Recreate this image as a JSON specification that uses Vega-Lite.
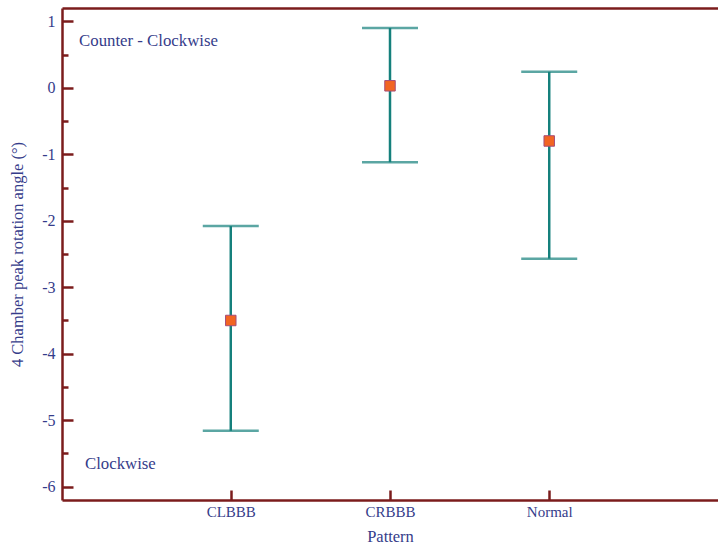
{
  "$schema": "https://vega.github.io/schema/vega-lite/v6.json",
  "width": 656,
  "height": 492,
  "autosize": {"type": "none"},
  "padding": {"left": 62, "top": 8, "right": 0, "bottom": 46},
  "config": {
    "view": {"stroke": null},
    "font": "Liberation Serif",
    "axis": {
      "grid": false,
      "domainColor": "#7b1c1c",
      "tickColor": "#7b1c1c",
      "domainWidth": 2.5,
      "tickWidth": 2.5,
      "labelColor": "#353c8a",
      "titleColor": "#353c8a",
      "labelFont": "Liberation Serif",
      "titleFont": "Liberation Serif",
      "titleFontWeight": "normal"
    }
  },
  "data": {
    "values": [
      {"pattern": "CLBBB", "mean": -3.5, "lo": -5.16, "hi": -2.08},
      {"pattern": "CRBBB", "mean": 0.03, "lo": -1.12, "hi": 0.9},
      {"pattern": "Normal", "mean": -0.8, "lo": -2.57, "hi": 0.24}
    ]
  },
  "resolve": {"scale": {"x": "independent"}, "axis": {"x": "independent", "y": "independent"}},
  "layer": [
    {
      "mark": {"type": "rule", "color": "#15807c", "strokeWidth": 2.5},
      "encoding": {
        "x": {"field": "pattern", "type": "nominal", "sort": null,
          "scale": {"type": "point", "domain": [" ", "CLBBB", "CRBBB", "Normal", "  "], "padding": 0.06},
          "axis": {"title": "Pattern", "values": ["CLBBB", "CRBBB", "Normal"], "labelAngle": 0, "labelFontSize": 15, "titleFontSize": 16.5, "tickSize": -10, "labelPadding": 14, "titlePadding": 9, "domain": true}},
        "y": {"field": "lo", "type": "quantitative",
          "scale": {"domain": [-6.2, 1.2], "nice": false, "zero": false},
          "axis": {"title": "4 Chamber peak rotation angle (°)", "values": [1, 0, -1, -2, -3, -4, -5, -6], "labelExpr": "'' + datum.value", "labelFontSize": 16, "titleFontSize": 16.5, "tickSize": -11, "labelPadding": 18, "titlePadding": 16}},
        "y2": {"field": "hi"}
      }
    },
    {
      "mark": {"type": "tick", "color": "#15807c", "thickness": 2.5, "size": 56},
      "encoding": {
        "x": {"field": "pattern", "type": "nominal", "sort": null, "scale": {"type": "point", "domain": [" ", "CLBBB", "CRBBB", "Normal", "  "], "padding": 0.06}, "axis": null},
        "y": {"field": "hi", "type": "quantitative", "axis": null}
      }
    },
    {
      "mark": {"type": "tick", "color": "#15807c", "thickness": 2.5, "size": 56},
      "encoding": {
        "x": {"field": "pattern", "type": "nominal", "sort": null, "scale": {"type": "point", "domain": [" ", "CLBBB", "CRBBB", "Normal", "  "], "padding": 0.06}, "axis": null},
        "y": {"field": "lo", "type": "quantitative", "axis": null}
      }
    },
    {
      "mark": {"type": "point", "shape": "square", "filled": true, "size": 110, "fill": "#f26522", "stroke": "#a64d79", "strokeWidth": 1, "opacity": 1},
      "encoding": {
        "x": {"field": "pattern", "type": "nominal", "sort": null, "scale": {"type": "point", "domain": [" ", "CLBBB", "CRBBB", "Normal", "  "], "padding": 0.06}, "axis": null},
        "y": {"field": "mean", "type": "quantitative", "axis": null}
      }
    },
    {
      "data": {
        "values": [
          {"label": "Counter - Clockwise", "px": 0.026, "py": 0.7},
          {"label": "Clockwise", "px": 0.035, "py": -5.66}
        ]
      },
      "mark": {"type": "text", "align": "left", "baseline": "middle", "fontSize": 16.8, "color": "#353c8a", "font": "Liberation Serif"},
      "encoding": {
        "x": {"field": "px", "type": "quantitative", "scale": {"domain": [0, 1], "nice": false},
          "axis": {"orient": "top", "labels": false, "ticks": false, "title": null, "domain": true}},
        "y": {"field": "py", "type": "quantitative",
          "axis": {"orient": "left", "values": [0.5, -0.5, -1.5, -2.5, -3.5, -4.5, -5.5], "labels": false, "title": null, "domain": false, "tickSize": -6}},
        "text": {"field": "label"}
      }
    }
  ]
}
